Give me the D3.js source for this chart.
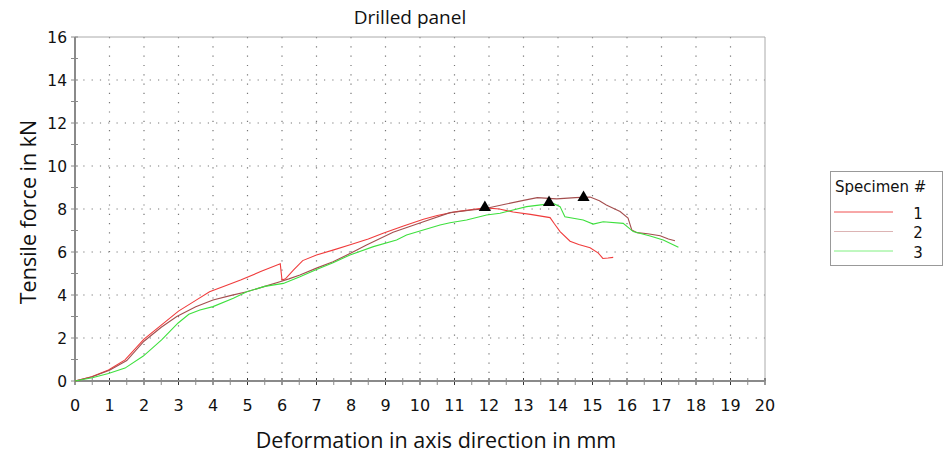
<!DOCTYPE html>
<html>
<head>
<meta charset="utf-8">
<script src="https://cdn.jsdelivr.net/npm/d3@7"></script>
<style>
body { margin: 0; background: #fff; }
</style>
</head>
<body>
<div id="graphContainer"></div>
<script>
// values
var xTicks = [0,1,2,3,4,5,6,7,8,9,10,11,12,13,14,15,16,17,18,19,20];
var yTicks = [0,2,4,6,8,10,12,14,16];
var specimens = ["1", "2", "3"];
var colors = ["#f03c3c", "#a44e4e", "#3ee03e"];

var spec1 = [[0,0],[0.48,0.2],[0.97,0.51],[1.45,0.98],[2.0,1.95],[2.5,2.6],[3.0,3.25],[3.5,3.75],[3.9,4.15],[4.4,4.45],[4.8,4.7],[5.4,5.1],[5.95,5.45],[6.0,4.7],[6.1,4.75],[6.33,5.16],[6.6,5.6],[7.0,5.86],[7.5,6.1],[8.0,6.35],[8.5,6.6],[8.93,6.87],[9.5,7.2],[10.1,7.52],[10.5,7.7],[11.06,7.88],[11.5,7.97],[11.9,8.05],[12.3,8.0],[12.7,7.86],[13.2,7.75],[13.77,7.6],[13.9,7.3],[14.06,6.95],[14.35,6.5],[14.6,6.35],[14.93,6.2],[15.17,5.95],[15.3,5.7],[15.45,5.72],[15.6,5.75]];
var spec2 = [[0,0],[0.5,0.2],[1.0,0.5],[1.5,0.95],[2.0,1.85],[2.5,2.5],[2.95,3.0],[3.5,3.45],[4.0,3.77],[4.5,3.97],[4.98,4.15],[5.5,4.4],[5.94,4.62],[6.2,4.75],[6.52,4.93],[7.0,5.25],[7.48,5.55],[8.0,5.95],[8.45,6.33],[9.22,6.92],[10.1,7.41],[10.87,7.83],[11.5,7.95],[11.83,8.0],[12.5,8.23],[13.0,8.4],[13.4,8.53],[13.96,8.47],[14.5,8.53],[14.93,8.56],[15.2,8.38],[15.4,8.19],[15.8,7.88],[16.03,7.58],[16.14,7.02],[16.29,6.9],[16.6,6.85],[16.96,6.76],[17.2,6.6],[17.39,6.52]];
var spec3 = [[0,0],[0.5,0.15],[0.97,0.35],[1.45,0.6],[1.98,1.16],[2.51,1.91],[2.99,2.7],[3.3,3.1],[3.62,3.3],[4.0,3.46],[4.59,3.85],[4.98,4.15],[5.5,4.4],[6.04,4.54],[6.52,4.85],[7.0,5.19],[7.48,5.5],[7.97,5.86],[8.65,6.25],[9.32,6.56],[9.61,6.79],[10.58,7.26],[10.87,7.36],[11.35,7.49],[11.93,7.72],[12.32,7.8],[13.09,8.11],[13.86,8.26],[14.06,8.11],[14.2,7.64],[14.73,7.49],[15.02,7.3],[15.31,7.41],[15.89,7.33],[16.18,6.95],[16.67,6.74],[17.05,6.56],[17.49,6.22]];
var peaks = [[11.88,8.07],[13.74,8.3],[14.74,8.53]];

window.onload = function()
{
	generateGraph();
}

function generateGraph()
{
	var width = 945, height = 456;
	var left = 75, right = 765, top = 37, bottom = 381;
	var axisColor = "#8a8a8a";
	var tickFont = "DejaVu Sans, Verdana, sans-serif";
	var labelFont = "Open Sans, Noto Sans, sans-serif";

	var x = d3.scaleLinear().domain([0, 20]).range([left, right]);
	var y = d3.scaleLinear().domain([0, 16]).range([bottom, top]);

	var svg = d3.select("#graphContainer")
		.append("svg")
			.attr("width", width)
			.attr("height", height);

	// dotted grid
	svg.append("g")
		.selectAll("line")
		.data(xTicks.slice(1, -1))
		.enter().append("line")
			.attr("x1", function(d) { return x(d); })
			.attr("x2", function(d) { return x(d); })
			.attr("y1", y(16))
			.attr("y2", y(0))
			.style("stroke", "#777")
			.style("stroke-width", 1.2)
			.style("stroke-dasharray", "1.2,8.1");

	svg.append("g")
		.selectAll("line")
		.data(yTicks.slice(1, -1))
		.enter().append("line")
			.attr("x1", x(0))
			.attr("x2", x(20))
			.attr("y1", function(d) { return y(d); })
			.attr("y2", function(d) { return y(d); })
			.style("stroke", "#777")
			.style("stroke-width", 1.2)
			.style("stroke-dasharray", "1.2,7.1");

	// frame
	svg.append("path")
		.attr("d", "M" + x(0) + "," + y(16) + "H" + x(20) + "V" + y(0))
		.style("fill", "none")
		.style("stroke", "#aaa")
		.style("stroke-width", 1);

	// ticks crossing the axes
	svg.append("g")
		.selectAll("line")
		.data(d3.range(0, 20.01, 0.5))
		.enter().append("line")
			.attr("x1", function(d) { return x(d); })
			.attr("x2", function(d) { return x(d); })
			.attr("y1", y(0) - 3)
			.attr("y2", y(0) + 4)
			.style("stroke", function(d) { return d % 1 === 0 ? "#333" : axisColor; })
			.style("stroke-width", 1);

	svg.append("g")
		.selectAll("line")
		.data(d3.range(0, 16.01, 1))
		.enter().append("line")
			.attr("x1", x(0) - 4)
			.attr("x2", x(0) + 3)
			.attr("y1", function(d) { return y(d); })
			.attr("y2", function(d) { return y(d); })
			.style("stroke", axisColor)
			.style("stroke-width", 1);

	svg.append("line")
		.attr("x1", x(0)).attr("x2", x(20))
		.attr("y1", y(0)).attr("y2", y(0))
		.style("stroke", axisColor)
		.style("stroke-width", 2);

	svg.append("line")
		.attr("x1", x(0)).attr("x2", x(0))
		.attr("y1", y(0)).attr("y2", y(16))
		.style("stroke", axisColor)
		.style("stroke-width", 2);

	// tick labels
	svg.append("g")
		.selectAll("text")
		.data(xTicks)
		.enter().append("text")
			.attr("x", function(d) { return x(d); })
			.attr("y", 411)
			.attr("text-anchor", "middle")
			.style("font-family", tickFont)
			.style("font-size", "16px")
			.style("fill", "#111")
			.text(function(d) { return d; });

	svg.append("g")
		.selectAll("text")
		.data(yTicks)
		.enter().append("text")
			.attr("x", 67)
			.attr("y", function(d) { return y(d) + 5.5; })
			.attr("text-anchor", "end")
			.style("font-family", tickFont)
			.style("font-size", "15.5px")
			.style("fill", "#111")
			.text(function(d) { return d; });

	// curves
	var line = d3.line()
		.x(function(d) { return x(d[0]); })
		.y(function(d) { return y(d[1]); });

	var series = [spec1, spec2, spec3];
	svg.append("g")
		.selectAll("path")
		.data(series)
		.enter().append("path")
			.attr("d", line)
			.style("fill", "none")
			.style("stroke", function(d, i) { return colors[i]; })
			.style("stroke-width", 1.1);

	// peak markers
	svg.append("g")
		.selectAll("path")
		.data(peaks)
		.enter().append("path")
			.attr("transform", function(d) { return "translate(" + x(d[0]) + "," + y(d[1]) + ")"; })
			.attr("d", d3.symbol().type(d3.symbolTriangle).size(64))
			.style("fill", "#000");

	// titles
	svg.append("text")
		.attr("x", 410)
		.attr("y", 24)
		.attr("text-anchor", "middle")
		.style("font-family", labelFont)
		.style("font-size", "19px")
		.style("fill", "#111")
		.text("Drilled panel");

	svg.append("text")
		.attr("x", 436)
		.attr("y", 448)
		.attr("text-anchor", "middle")
		.style("font-family", labelFont)
		.style("font-size", "21.5px")
		.style("fill", "#111")
		.text("Deformation in axis direction in mm");

	svg.append("text")
		.attr("transform", "translate(36,212) rotate(-90)")
		.attr("text-anchor", "middle")
		.style("font-family", labelFont)
		.style("font-size", "21.5px")
		.style("fill", "#111")
		.text("Tensile force in kN");

	// legend
	var legend = svg.append("g").attr("transform", "translate(830,171)");
	legend.append("rect")
		.attr("x", 0.5).attr("y", 0.5)
		.attr("width", 112).attr("height", 94)
		.style("fill", "#fff")
		.style("stroke", "#999");
	legend.append("text")
		.attr("x", 5)
		.attr("y", 21)
		.style("font-family", tickFont)
		.style("font-size", "15px")
		.style("fill", "#111")
		.text("Specimen #");

	var items = legend.selectAll(".item")
		.data(specimens)
		.enter().append("g")
			.attr("class", "item")
			.attr("transform", function(d, i) { return "translate(0," + (41 + i * 19.5) + ")"; });
	items.append("line")
		.attr("x1", 4).attr("x2", 63)
		.attr("y1", 0).attr("y2", 0)
		.style("stroke", function(d, i) { return i === 1 ? "#dcb4b4" : (i === 0 ? "#f05050" : "#80f080"); })
		.style("stroke-width", 1);
	items.append("text")
		.attr("x", 88)
		.attr("y", 6.5)
		.attr("text-anchor", "middle")
		.style("font-family", tickFont)
		.style("font-size", "15px")
		.style("fill", "#111")
		.text(function(d) { return d; });
}
</script>
</body>
</html>
